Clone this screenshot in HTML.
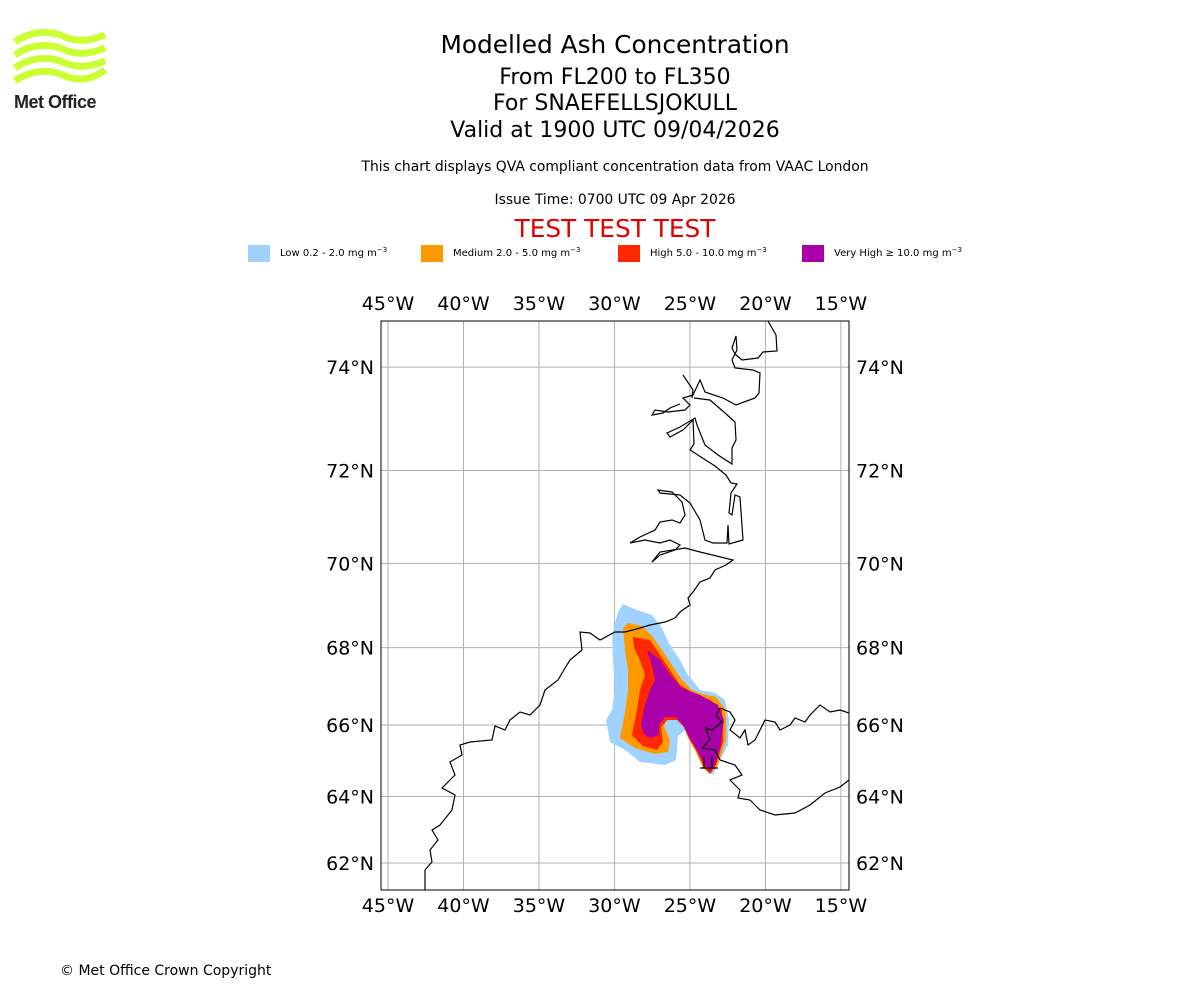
<!DOCTYPE html>
<html><head><meta charset="utf-8">
<style>
body{margin:0;background:#fff;width:1200px;height:1000px;overflow:hidden;font-family:"DejaVu Sans","Liberation Sans",sans-serif;}
</style></head>
<body>
<svg id="chart" width="1200" height="1000" viewBox="0 0 1200 1000" xmlns="http://www.w3.org/2000/svg" font-family="DejaVu Sans, Liberation Sans, sans-serif">
  <g>
    <g fill="none" stroke="#ccff33" stroke-width="7" stroke-linecap="butt">
      <path d="M15 42 C35 28,55 32,65 37 C80 43,92 40,105 35"/>
      <path d="M15 55 C35 41,55 45,65 50 C80 56,92 53,105 48"/>
      <path d="M15 68 C35 54,55 58,65 63 C80 69,92 66,105 61"/>
      <path d="M15 81 C35 67,55 71,65 76 C80 82,92 79,105 70"/>
    </g>
    <text x="14" y="108" font-family="Liberation Sans, sans-serif" font-size="18" font-weight="bold" fill="#222" letter-spacing="-0.5">Met Office</text>
  </g>
  <g text-anchor="middle">
    <text x="615" y="53" font-size="24.8">Modelled Ash Concentration</text>
    <text x="615" y="84" font-size="22">From FL200 to FL350</text>
    <text x="615" y="110" font-size="22">For SNAEFELLSJOKULL</text>
    <text x="615" y="137" font-size="22">Valid at 1900 UTC 09/04/2026</text>
    <text x="615" y="171" font-size="13.9">This chart displays QVA compliant concentration data from VAAC London</text>
    <text x="615" y="204" font-size="13.9">Issue Time: 0700 UTC 09 Apr 2026</text>
    <text x="615" y="237" font-size="24.8" fill="#e00000">TEST TEST TEST</text>
  </g>
  <g font-size="10">
    <rect x="248" y="245" width="22" height="17" fill="#a0d2ff"/>
    <text x="280" y="256">Low 0.2 - 2.0 mg m<tspan dy="-4" font-size="7">−3</tspan></text>
    <rect x="421" y="245" width="22" height="17" fill="#ff9900"/>
    <text x="453" y="256">Medium 2.0 - 5.0 mg m<tspan dy="-4" font-size="7">−3</tspan></text>
    <rect x="618" y="245" width="22" height="17" fill="#ff2800"/>
    <text x="650" y="256">High 5.0 - 10.0 mg m<tspan dy="-4" font-size="7">−3</tspan></text>
    <rect x="802" y="245" width="22" height="17" fill="#aa00aa"/>
    <text x="834" y="256">Very High  ≥  10.0 mg m<tspan dy="-4" font-size="7">−3</tspan></text>
  </g>
  <defs><clipPath id="mapclip"><rect x="381" y="321" width="468" height="569"/></clipPath></defs>
  <g id="grid"></g>
  <g clip-path="url(#mapclip)">
    <path fill="#a0d2ff" d="M618 612 L623 604 L637 610 L652 615 L660 625 L670 645 L680 660 L688 675 L700 690 L715 693 L725 700 L729 720 L728 745 L720 760 L713 775 L705 770 L698 755 L690 740 L685 730 L678 736 L676 760 L665 765 L640 762 L625 750 L610 742 L606 720 L612 710 L615 690 L613 660 L612 635 Z"/>
    <path fill="#ff9900" d="M623 628 L628 623 L642 626 L652 636 L662 650 L672 665 L682 680 L692 690 L703 694 L716 697 L726 710 L726 740 L718 765 L710 774 L703 768 L696 752 L688 738 L683 725 L676 718 L668 718 L664 726 L670 740 L668 752 L655 754 L635 748 L620 738 L625 712 L628 690 L628 670 L625 650 Z"/>
    <path fill="#ff2800" d="M633 637 L650 640 L660 655 L670 670 L680 685 L695 694 L710 700 L722 710 L723 742 L716 765 L710 774 L704 767 L697 752 L689 738 L684 727 L677 720 L667 720 L661 727 L663 742 L657 750 L643 746 L632 735 L636 715 L640 690 L645 675 L640 660 L634 648 Z"/>
    <path fill="#aa00aa" d="M647 650 L660 660 L670 675 L682 688 L700 695 L718 705 L724 720 L721 745 L715 765 L710 772 L705 765 L697 750 L688 735 L683 725 L676 717 L665 717 L659 725 L659 735 L650 738 L644 734 L641 725 L645 705 L650 690 L655 680 L652 665 Z"/>
  </g>
  <g clip-path="url(#mapclip)" fill="none" stroke="#000" stroke-width="1.2">
    <path d="M768 321 L776 335 L777 351 L763 352 L758 358 L742 360 L735 354 L732 348 L736 336 L737 350 L732 360 L735 368 L753 370 L760 373 L759 393 L755 398 L736 405 L723 398 L705 392 L700 380 L693 395 L683 398 L690 405 L685 410 L668 412 L655 410 L652 415 L663 413 L670 408 L680 404"/>
    <path d="M683 375 L693 390 L692 398"/>
    <path d="M694 398 L710 400 L725 413 L735 422 L736 440 L732 448 L732 464 L718 455 L705 445 L697 425 L695 418 L680 427 L667 433 L670 437 L683 430 L693 420 L694 444 L690 450 L715 466 L726 475 L731 483 L737 484 L731 493 L729 513 L732 515 L735 495 L740 497 L743 540 L729 544 L728 525 L727 543 L713 543 L705 540 L700 520 L690 503 L680 495 L660 493 L658 490 L672 492 L682 502 L685 515 L680 523 L672 520 L660 522 L655 530 L640 537 L630 543 L645 540 L660 543 L670 540 L680 545 L675 550 L660 555 L652 562"/>
    <path d="M652 562 L660 552 L685 548 L700 552 L733 560 L726 565 L715 570 L710 578 L700 582 L693 592 L688 598 L690 605 L680 612 L675 618 L665 622 L650 625 L640 628 L625 632 L615 632 L600 640 L590 633 L580 632 L582 650 L570 660 L565 668 L558 680 L545 690 L540 705 L530 715 L520 712 L510 720 L505 730 L495 726 L492 740 L470 742 L460 745 L462 755 L450 762 L455 775 L442 788 L455 795 L452 810 L440 825 L432 830 L438 840 L430 850 L432 862 L425 870 L425 890"/>
    <path d="M720 708 L730 712 L735 720 L730 730 L740 738 L745 730 L748 745 L755 740 L765 720 L775 722 L780 730 L790 725 L795 718 L805 722 L810 715 L820 705 L830 712 L840 710 L849 713"/>
    <path d="M720 760 L735 765 L742 775 L730 780 L740 790 L738 798 L750 800 L760 810 L775 815 L795 813 L810 805 L825 793 L840 787 L849 780"/>
    <path d="M720 708 L716 716 L722 722 L712 730 L706 728 L710 740 L702 748 L715 750 L720 760"/>
    <path d="M700 768 L718 768 M704 758 L704 768 M712 756 L712 768"/>
  </g>
  <rect x="381" y="321" width="468" height="569" fill="none" stroke="#000" stroke-width="1"/>
  <g id="labels" font-size="19"></g>
  <text x="60" y="975" font-size="14">© Met Office Crown Copyright</text>
</svg>
<script>
const lonTicks = [-45, -40, -35, -30, -25, -20, -15];
const latTicks = [62, 64, 66, 68, 70, 72, 74];
const NS = "http://www.w3.org/2000/svg";
const K = 865;
function merc(lat){ const r = lat*Math.PI/180; return Math.log(Math.tan(Math.PI/4 + r/2)); }
function xOf(lon){ return 388 + (lon + 45) * K * Math.PI/180; }
function yOf(lat){ return 863 - (merc(lat) - merc(62)) * K; }
const grid = document.getElementById('grid');
const labels = document.getElementById('labels');
function mk(tag, attrs, parent){ const e = document.createElementNS(NS, tag); for (const k in attrs) e.setAttribute(k, attrs[k]); parent.appendChild(e); return e; }
lonTicks.forEach(lon => {
  const x = xOf(lon);
  const l = mk('line', {x1:x, x2:x, y1:321, y2:890, stroke:'#b0b0b0', 'stroke-width':1}, grid);
  
  
  [310, 912].forEach(y => {
    const t = mk('text', {x:x, y:y, 'text-anchor':'middle'}, labels);
    t.textContent = Math.abs(lon) + '°W';
    
    
  });
});
latTicks.forEach(lat => {
  const y = yOf(lat);
  const l = mk('line', {x1:381, x2:849, y1:y, y2:y, stroke:'#b0b0b0', 'stroke-width':1}, grid);
  
  
  const t1 = mk('text', {x:374, y:y+7, 'text-anchor':'end'}, labels);
  t1.textContent = lat + '°N';
  
  
  const t2 = mk('text', {x:856, y:y+7, 'text-anchor':'start'}, labels);
  t2.textContent = lat + '°N';
  
  
});
</script>
</body></html>
